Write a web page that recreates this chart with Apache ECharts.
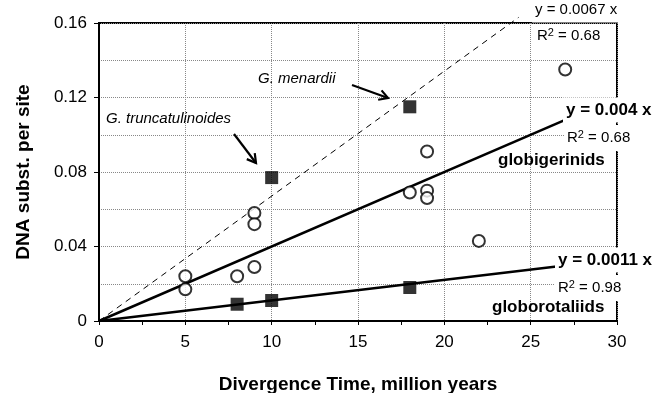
<!DOCTYPE html>
<html>
<head>
<meta charset="utf-8">
<script src="https://cdn.jsdelivr.net/npm/echarts@6/dist/echarts.min.js"></script>
<style>
html,body{margin:0;padding:0;background:#fff;}
#chart{width:654px;height:393px;}
</style>
</head>
<body>
<div id="chart"></div>
<script>
// globigerinids (open circles)
var globigX = [5, 5, 8, 9, 9, 9, 18, 19, 19, 19, 22, 27];
var globigY = [0.024, 0.017, 0.024, 0.058, 0.052, 0.029, 0.069, 0.091, 0.070, 0.066, 0.043, 0.135];
// globorotaliids (filled squares)
var globorX = [8, 10, 18, 10, 18];
var globorY = [0.009, 0.011, 0.018, 0.077, 0.115];
// regression lines, end points
var fitAll = [[0, 0], [24.3, 0.163]];      // y = 0.0067 x
var fitGlobig = [[0, 0], [27, 0.108]];     // y = 0.004 x
var fitGlobor = [[0, 0], [26.5, 0.0292]];  // y = 0.0011 x

function pairs(xs, ys){
	var out = [];
	for(var i=0;i<xs.length;i++){
		out.push([xs[i], ys[i]]);
	}
	return out;
}

//箭头
function arrow(x1, y1, x2, y2){
	var dx = x2-x1, dy = y2-y1;
	var len = Math.sqrt(dx*dx+dy*dy);
	var ux = dx/len, uy = dy/len;
	var L = 10, a = Math.PI/6;
	var p1 = [x2 - L*(ux*Math.cos(a) - uy*Math.sin(a)), y2 - L*(uy*Math.cos(a) + ux*Math.sin(a))];
	var p2 = [x2 - L*(ux*Math.cos(a) + uy*Math.sin(a)), y2 - L*(uy*Math.cos(a) - ux*Math.sin(a))];
	return [{
		type:'line',
		shape:{x1:x1, y1:y1, x2:x2, y2:y2},
		style:{stroke:'#000', lineWidth:2.2},
		z:10
	},{
		type:'polyline',
		shape:{points:[p1, [x2, y2], p2]},
		style:{stroke:'#000', lineWidth:2.2, fill:null},
		z:10
	}];
}

var font = 'Liberation Sans';
function label(x, y, text, opts){
	var st = {
		text:text,
		x:x, y:y,
		fontFamily:font,
		fontSize:opts.size,
		fontWeight:opts.weight || 'normal',
		fontStyle:opts.style || 'normal',
		fill:'#000',
		verticalAlign:'middle',
		align:'left'
	};
	if(opts.bg){
		st.backgroundColor = '#fff';
		st.padding = opts.pad || [4, 3];
	}
	if(opts.rich){
		st.rich = opts.rich;
	}
	return {type:'text', z:20, style:st};
}

var richR = {
	sup:{fontSize:11, fontFamily:font, padding:[0,0,7,0]}
};

var graphics = [];
graphics.push(label(532, 10, 'y = 0.0067 x', {size:15, bg:true, pad:[4,3,6,3]}));
graphics.push(label(537, 36, 'R{sup|2} = 0.68', {size:15, rich:richR}));
graphics.push(label(563, 110, 'y = 0.004 x', {size:17, weight:'bold', bg:true}));
graphics.push(label(564, 138, 'R{sup|2} = 0.68', {size:15, bg:true, rich:richR}));
graphics.push(label(498, 160, 'globigerinids', {size:17, weight:'bold'}));
graphics.push(label(555, 260, 'y = 0.0011 x', {size:17, weight:'bold', bg:true}));
graphics.push(label(555, 288, 'R{sup|2} = 0.98', {size:15, bg:true, rich:richR}));
graphics.push(label(492, 307, 'globorotaliids', {size:17, weight:'bold'}));
graphics.push(label(258, 79, 'G. menardii', {size:15, style:'italic'}));
graphics.push(label(106, 119, 'G. truncatulinoides', {size:15, style:'italic'}));
graphics = graphics.concat(arrow(234, 134, 256, 163));
graphics = graphics.concat(arrow(352, 85, 388, 98));

var chart = echarts.init(document.getElementById('chart'));
var option = {
	backgroundColor:'#fff',
	animation:false,
	textStyle:{fontFamily:font},
	grid:{
		left:99, right:37, top:23, bottom:72,
		containLabel:false,
		outerBoundsMode:'none',
		show:true,
		borderColor:'#000',
		borderWidth:2,
		backgroundColor:'transparent'
	},
	xAxis:{
		type:'value',
		min:0, max:30, interval:5,
		name:'Divergence Time, million years',
		nameLocation:'middle',
		nameGap:54,
		nameTextStyle:{fontSize:19, fontWeight:'bold', color:'#000', fontFamily:font},
		axisLine:{show:true, onZero:false, lineStyle:{color:'#000', width:2}},
		axisTick:{show:true, length:4, lineStyle:{color:'#000'}},
		minorTick:{show:true, splitNumber:2, length:4, lineStyle:{color:'#000'}},
		axisLabel:{fontSize:17, color:'#000', margin:13, fontFamily:font},
		splitLine:{show:true, lineStyle:{color:'#888', type:'dotted', width:1}}
	},
	yAxis:{
		type:'value',
		min:0, max:0.16, interval:0.04,
		name:'DNA subst. per site',
		nameLocation:'middle',
		nameGap:66,
		nameTextStyle:{fontSize:19, fontWeight:'bold', color:'#000', fontFamily:font},
		axisLine:{show:true, onZero:false, lineStyle:{color:'#000', width:2}},
		axisTick:{show:true, length:5, lineStyle:{color:'#000'}},
		minorTick:{show:false, splitNumber:2},
		axisLabel:{
			fontSize:17, color:'#000', margin:12, fontFamily:font,
			formatter:function(v){
				return v === 0 ? '0' : v.toFixed(2);
			}
		},
		splitLine:{show:true, lineStyle:{color:'#888', type:'dotted', width:1}},
		minorSplitLine:{show:true, lineStyle:{color:'#888', type:'dotted', width:1}}
	},
	series:[{
		name:'all',
		type:'line',
		data:fitAll,
		symbol:'none',
		clip:false,
		lineStyle:{color:'#000', width:1, type:[6,5]},
		z:3
	},{
		name:'fit globigerinids',
		type:'line',
		data:fitGlobig,
		symbol:'none',
		lineStyle:{color:'#000', width:2.5},
		z:3
	},{
		name:'fit globorotaliids',
		type:'line',
		data:fitGlobor,
		symbol:'none',
		lineStyle:{color:'#000', width:2.5},
		z:3
	},{
		name:'globigerinids',
		type:'scatter',
		data:pairs(globigX, globigY),
		symbol:'circle',
		symbolSize:12,
		itemStyle:{color:'#fff', borderColor:'#000', borderWidth:2},
		z:5
	},{
		name:'globorotaliids',
		type:'scatter',
		data:pairs(globorX, globorY),
		symbol:'rect',
		symbolSize:13,
		itemStyle:{color:'#000'},
		z:5
	}],
	graphic:graphics
};
chart.setOption(option);
</script>
</body>
</html>
